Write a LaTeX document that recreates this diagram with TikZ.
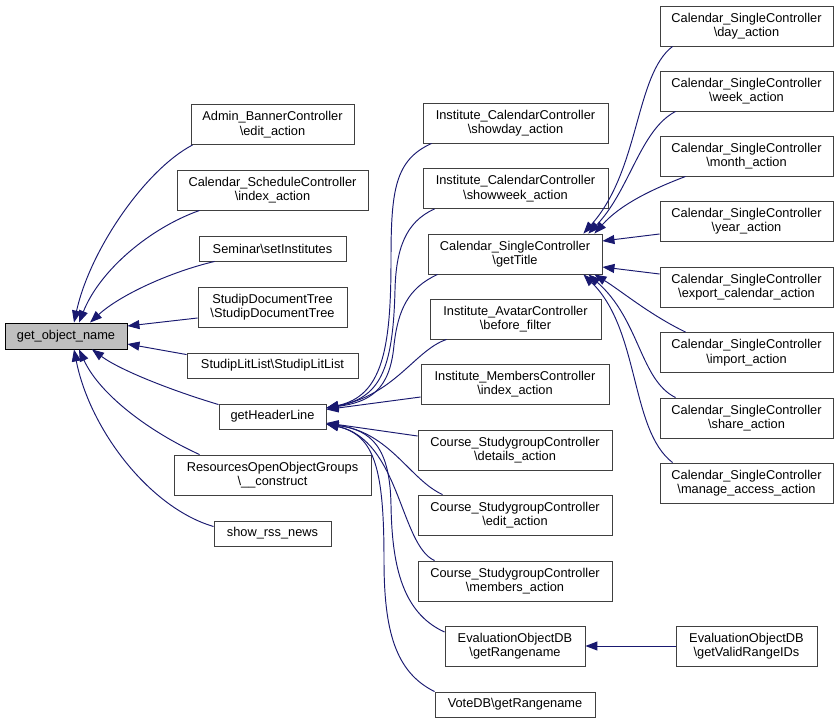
\documentclass[tikz,border=0pt]{standalone}
\usepackage{fontspec}
\setmainfont{Liberation Sans}
\usetikzlibrary{arrows.meta,calc}
\definecolor{edgeblue}{HTML}{191970}
\definecolor{boxline}{HTML}{404040}
\definecolor{rootfill}{HTML}{BFBFBF}
\begin{document}
\begin{tikzpicture}[x=1pt,y=-1pt,
  fn/.style={draw=boxline, fill=white, line width=0.9pt, inner sep=0pt, align=center,
    font=\fontsize{12.8}{14.6}\selectfont, text=black},
  root/.style={fn, fill=rootfill, draw=black},
  edge/.style={draw=edgeblue, line width=0.95pt, -{Triangle[length=12pt,width=9pt]}}]
\fill[white] (0,0) rectangle (839,723);
\useasboundingbox (0,0) rectangle (839,723);

% root
\node[root, minimum width=122pt, minimum height=26pt] (gon) at (66,336) {get\_object\_name};

% column 2
\node[fn, minimum width=163pt, minimum height=40pt] (abc) at (272.5,124.5) {Admin\_BannerController\\\textbackslash edit\_action};
\node[fn, minimum width=191pt, minimum height=40pt] (csc) at (272.5,190) {Calendar\_ScheduleController\\\textbackslash index\_action};
\node[fn, minimum width=147pt, minimum height=25pt] (sem) at (272.5,248.5) {Seminar\textbackslash setInstitutes};
\node[fn, minimum width=149pt, minimum height=40pt] (sdt) at (272.5,307) {StudipDocumentTree\\\textbackslash StudipDocumentTree};
\node[fn, minimum width=171pt, minimum height=25pt] (sll) at (272.5,365.5) {StudipLitList\textbackslash StudipLitList};
\node[fn, minimum width=107pt, minimum height=25pt] (ghl) at (272.5,416.5) {getHeaderLine};
\node[fn, minimum width=197pt, minimum height=40pt] (roo) at (272.5,475) {ResourcesOpenObjectGroups\\\textbackslash \_\_construct};
\node[fn, minimum width=117pt, minimum height=25pt] (rss) at (272.5,533.5) {show\_rss\_news};

% column 3
\node[fn, minimum width=185pt, minimum height=40pt] (sd) at (515.5,123) {Institute\_CalendarController\\\textbackslash showday\_action};
\node[fn, minimum width=185pt, minimum height=40pt] (sw) at (515.5,188.5) {Institute\_CalendarController\\\textbackslash showweek\_action};
\node[fn, minimum width=174pt, minimum height=40pt] (gt) at (515,254) {Calendar\_SingleController\\\textbackslash getTitle};
\node[fn, minimum width=171pt, minimum height=40pt] (av) at (515.5,319) {Institute\_AvatarController\\\textbackslash before\_filter};
\node[fn, minimum width=188pt, minimum height=40pt] (mc) at (515,384) {Institute\_MembersController\\\textbackslash index\_action};
\node[fn, minimum width=194pt, minimum height=40pt] (det) at (515,450) {Course\_StudygroupController\\\textbackslash details\_action};
\node[fn, minimum width=194pt, minimum height=40pt] (ed) at (515,515) {Course\_StudygroupController\\\textbackslash edit\_action};
\node[fn, minimum width=194pt, minimum height=40pt] (ma) at (515,581) {Course\_StudygroupController\\\textbackslash members\_action};
\node[fn, minimum width=140pt, minimum height=40pt] (er) at (515,646) {EvaluationObjectDB\\\textbackslash getRangename};
\node[fn, minimum width=160pt, minimum height=25pt] (vd) at (515,704.5) {VoteDB\textbackslash getRangename};

% column 4
\node[fn, minimum width=173pt, minimum height=40pt] (day) at (746.5,26) {Calendar\_SingleController\\\textbackslash day\_action};
\node[fn, minimum width=173pt, minimum height=40pt] (week) at (746.5,91) {Calendar\_SingleController\\\textbackslash week\_action};
\node[fn, minimum width=173pt, minimum height=40pt] (month) at (746.5,156) {Calendar\_SingleController\\\textbackslash month\_action};
\node[fn, minimum width=173pt, minimum height=40pt] (year) at (746.5,221) {Calendar\_SingleController\\\textbackslash year\_action};
\node[fn, minimum width=173pt, minimum height=40pt] (exp) at (746.5,287) {Calendar\_SingleController\\\textbackslash export\_calendar\_action};
\node[fn, minimum width=173pt, minimum height=40pt] (imp) at (746.5,352.5) {Calendar\_SingleController\\\textbackslash import\_action};
\node[fn, minimum width=173pt, minimum height=40pt] (shr) at (746.5,418) {Calendar\_SingleController\\\textbackslash share\_action};
\node[fn, minimum width=173pt, minimum height=40pt] (man) at (746.5,483) {Calendar\_SingleController\\\textbackslash manage\_access\_action};
\node[fn, minimum width=141pt, minimum height=40pt] (vri) at (746.5,646) {EvaluationObjectDB\\\textbackslash getValidRangeIDs};

% edges into get_object_name
\draw[edge] ($(abc.south west)+(2,0)$) .. controls (145,170) and (90,250) .. ($(gon.north)+(8,0)$);
\draw[edge] ($(csc.south west)+(23,0)$) .. controls (150,228) and (100,270) .. ($(gon.north)+(13,0)$);
\draw[edge] ($(sem.south west)+(16,0)$) .. controls (170,272) and (120,295) .. ($(gon.north)+(24,0)$);
\draw[edge] ($(sdt.west)+(0,11)$) -- ($(gon.east)+(0,-10)$);
\draw[edge] ($(sll.north west)+(0,2)$) -- ($(gon.east)+(0,8)$);
\draw[edge] ($(ghl.north west)+(0,1)$) .. controls (170,390) and (120,370) .. ($(gon.south)+(26,0)$);
\draw[edge] ($(roo.north west)+(26,0)$) .. controls (150,432) and (100,395) .. ($(gon.south)+(13,0)$);
\draw[edge] ($(rss.west)+(0,-7)$) .. controls (150,508) and (90,430) .. ($(gon.south)+(8,0)$);

% edges into getHeaderLine
\draw[edge] ($(sd.south west)+(9,0)$) .. controls (395,160) and (391,190) .. (391,260) .. controls (391,350) and (382,396) .. ($(ghl.east)+(0,-8.5)$);
\draw[edge] ($(sw.south west)+(12,0)$) .. controls (405,222) and (396,250) .. (395,290) .. controls (393,370) and (380,398) .. ($(ghl.east)+(0,-8.5)$);
\draw[edge] ($(gt.south west)+(10,0)$) .. controls (408,288) and (398,310) .. (394,345) .. controls (390,390) and (370,402) .. ($(ghl.east)+(0,-8.5)$);
\draw[edge] ($(av.south west)+(17,0)$) .. controls (415,350) and (395,395) .. ($(ghl.east)+(0,-8.5)$);
\draw[edge] ($(mc.west)+(0,13)$) -- ($(ghl.east)+(0,-7)$);
\draw[edge] ($(det.west)+(0,-14)$) -- ($(ghl.east)+(0,6.5)$);
\draw[edge] ($(ed.north west)+(25,0)$) .. controls (410,480) and (390,432) .. ($(ghl.east)+(0,7.5)$);
\draw[edge] ($(ma.north west)+(17,0)$) .. controls (400,545) and (400,440) .. ($(ghl.east)+(0,7.5)$);
\draw[edge] ($(er.west)+(0,-14)$) .. controls (400,612) and (392,560) .. (391,505) .. controls (390,448) and (372,430) .. ($(ghl.east)+(0,7.5)$);
\draw[edge] (vd.north west) .. controls (395,672) and (384,630) .. (384,560) .. controls (384,470) and (375,435) .. ($(ghl.east)+(0,7.5)$);

% edges into getTitle
\draw[edge] ($(day.south west)+(13,0)$) .. controls (635,75) and (640,170) .. ($(gt.north east)+(-19,0)$);
\draw[edge] ($(week.south west)+(16,0)$) .. controls (640,130) and (630,190) .. ($(gt.north east)+(-14,0)$);
\draw[edge] ($(month.south west)+(26,0)$) .. controls (650,190) and (620,205) .. ($(gt.north east)+(-8,0)$);
\draw[edge] ($(year.west)+(0,13)$) -- ($(gt.east)+(0,-13)$);
\draw[edge] ($(exp.west)+(0,-13)$) -- ($(gt.east)+(0,13)$);
\draw[edge] ($(imp.north west)+(26,0)$) .. controls (650,315) and (620,290) .. ($(gt.south east)+(-8,0)$);
\draw[edge] ($(shr.north west)+(16,0)$) .. controls (640,380) and (640,320) .. ($(gt.south east)+(-14,0)$);
\draw[edge] ($(man.north west)+(13,0)$) .. controls (630,430) and (640,330) .. ($(gt.south east)+(-19,0)$);

% edge into EvaluationObjectDB\getRangename
\draw[edge] (vri.west) -- (er.east);
\end{tikzpicture}
\end{document}
